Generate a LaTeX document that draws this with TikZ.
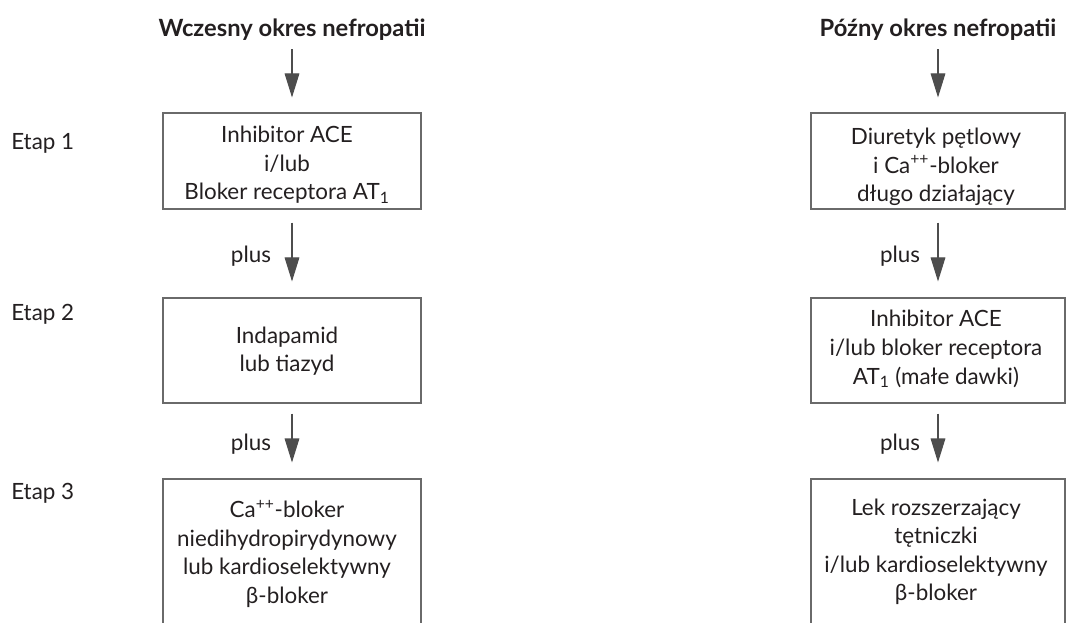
\documentclass[tikz,border=0pt]{standalone}
\usepackage{fontspec}
\setmainfont{Lato}
\usetikzlibrary{arrows.meta}
\definecolor{ink}{HTML}{231F20}
\definecolor{frame}{HTML}{6A6A6A}
\definecolor{arr}{HTML}{4D4D4D}
\begin{document}
\begin{tikzpicture}[x=0.75pt,y=-0.75pt,
  txt/.style={text=ink, font=\fontsize{16.8}{21.4}\selectfont, inner sep=0pt},
  ttl/.style={text=ink, font=\fontsize{17.8}{21.4}\selectfont\bfseries, inner sep=0pt},
  boxtxt/.style={txt, align=center},
  stepbox/.style={draw=frame, line width=0.8pt, inner sep=0pt, minimum width=#1},
  flow/.style={draw=arr, line width=0.8pt, -{Triangle[length=18pt, width=11pt]}}]
\useasboundingbox (0,0) rectangle (1066,623);
\clip (0,0) rectangle (1066,623);

% titles
\node[ttl] (tL) at (292,30) {Wczesny okres nefropatii};
\node[ttl] (tR) at (938,30) {Późny okres nefropatii};

% stage labels
\node[txt, anchor=west] (e1) at (11,143) {Etap 1};
\node[txt, anchor=west] (e2) at (11,314) {Etap 2};
\node[txt, anchor=west] (e3) at (11,493) {Etap 3};

% left column boxes
\node[stepbox=193.5pt, minimum height=72pt] (L1) at (292,161) {};
\node[stepbox=193.5pt, minimum height=78.75pt] (L2) at (292,350.5) {};
\node[stepbox=193.5pt, minimum height=112.5pt] (L3) at (292,554) {};
% right column boxes
\node[stepbox=190.5pt, minimum height=72pt] (R1) at (938,161) {};
\node[stepbox=190.5pt, minimum height=78.75pt] (R2) at (938,350.5) {};
\node[stepbox=190.5pt, minimum height=112.5pt] (R3) at (938,554) {};

% box texts
\node[boxtxt] (L1t) at (287,165) {Inhibitor ACE\\i/lub\\Bloker receptora AT\textsubscript{1}};
\node[boxtxt] (L2t) at (287,351) {Indapamid\\lub tiazyd};
\node[boxtxt] (L3t) at (287,554) {Ca\textsuperscript{++}-bloker\\niedihydropirydynowy\\lub kardioselektywny\\β-bloker};
\node[boxtxt] (R1t) at (936,167) {Diuretyk pętlowy\\i Ca\textsuperscript{++}-bloker\\długo działający};
\node[boxtxt] (R2t) at (936,349) {Inhibitor ACE\\i/lub bloker receptora\\AT\textsubscript{1} (małe dawki)};
\node[boxtxt] (R3t) at (936,552) {Lek rozszerzający\\tętniczki\\i/lub kardioselektywny\\β-bloker};

% plus labels
\node[txt] (pL1) at (251,256) {plus};
\node[txt] (pL2) at (251,444) {plus};
\node[txt] (pR1) at (900,256) {plus};
\node[txt] (pR2) at (900,444) {plus};

% arrows
\draw[flow, shorten <=6pt, shorten >=11.25pt] (L1.north |- tL.south) -- (L1.north);
\draw[flow, shorten <=6pt, shorten >=11.25pt] (R1.north |- tR.south) -- (R1.north);
\draw[flow, shorten <=9.75pt, shorten >=12pt] (L1.south) -- (L2.north);
\draw[flow, shorten <=9.75pt, shorten >=12pt] (R1.south) -- (R2.north);
\draw[flow, shorten <=7.5pt, shorten >=12pt] (L2.south) -- (L3.north);
\draw[flow, shorten <=7.5pt, shorten >=12pt] (R2.south) -- (R3.north);
\end{tikzpicture}
\end{document}
